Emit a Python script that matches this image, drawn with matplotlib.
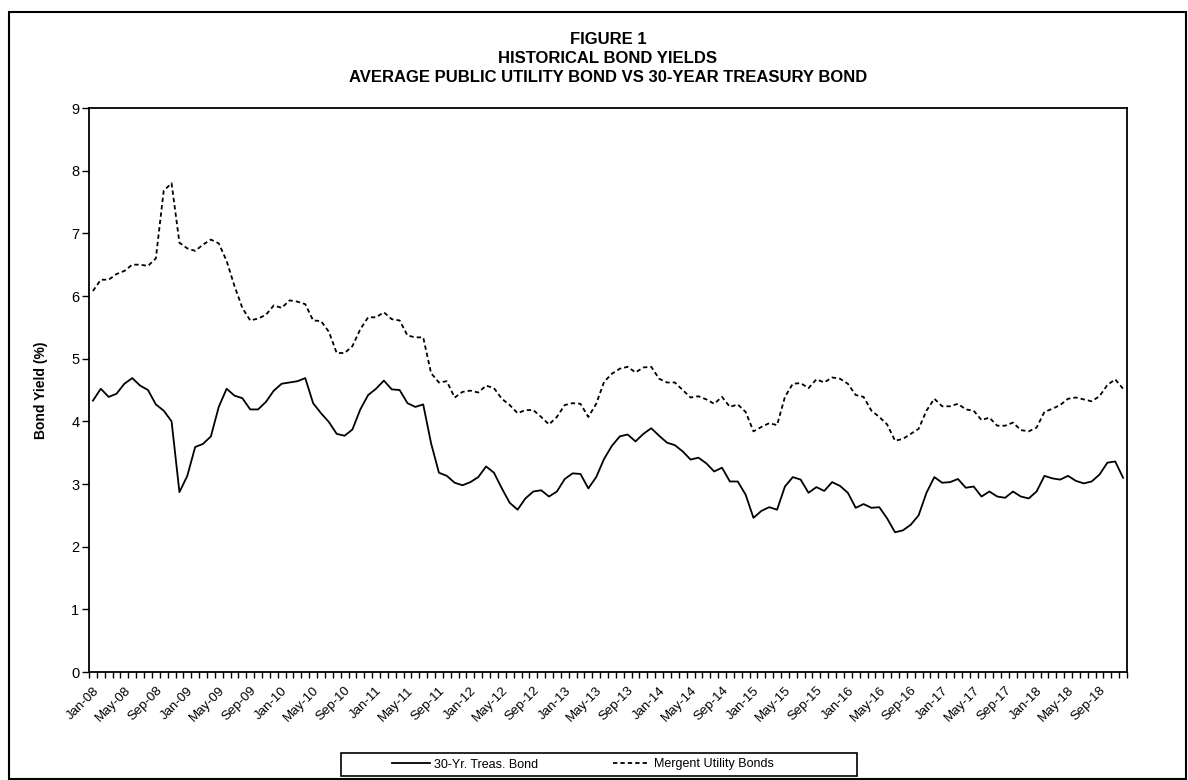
import numpy as np
import matplotlib
matplotlib.use('Agg')
import matplotlib.pyplot as plt
from matplotlib.patches import Rectangle

plt.rcParams['font.family'] = ['Liberation Sans', 'DejaVu Sans']

# 月份标签 (Jan-08 .. Dec-18)
months = ['Jan', 'Feb', 'Mar', 'Apr', 'May', 'Jun', 'Jul', 'Aug', 'Sep', 'Oct', 'Nov', 'Dec']
years = ['%02d' % y for y in range(8, 19)]
labels = [m + '-' + y for y in years for m in months]

# 30-Yr. Treas. Bond
treasury = [
    4.33, 4.52, 4.39, 4.44, 4.60, 4.69, 4.57, 4.50, 4.27, 4.17, 4.00, 2.87,
    3.13, 3.59, 3.64, 3.76, 4.23, 4.52, 4.41, 4.37, 4.19, 4.19, 4.31, 4.49,
    4.60, 4.62, 4.64, 4.69, 4.29, 4.13, 3.99, 3.80, 3.77, 3.87, 4.19, 4.42,
    4.52, 4.65, 4.51, 4.50, 4.29, 4.23, 4.27, 3.65, 3.18, 3.13, 3.02, 2.98,
    3.03, 3.11, 3.28, 3.18, 2.93, 2.70, 2.59, 2.77, 2.88, 2.90, 2.80, 2.88,
    3.08, 3.17, 3.16, 2.93, 3.11, 3.40, 3.61, 3.76, 3.79, 3.68, 3.80, 3.89,
    3.77, 3.66, 3.62, 3.52, 3.39, 3.42, 3.33, 3.20, 3.26, 3.04, 3.04, 2.83,
    2.46, 2.57, 2.63, 2.59, 2.96, 3.11, 3.07, 2.86, 2.95, 2.89, 3.03, 2.97,
    2.86, 2.62, 2.68, 2.62, 2.63, 2.45, 2.23, 2.26, 2.35, 2.50, 2.86, 3.11,
    3.02, 3.03, 3.08, 2.94, 2.96, 2.80, 2.88, 2.80, 2.78, 2.88, 2.80, 2.77,
    2.88, 3.13, 3.09, 3.07, 3.13, 3.05, 3.01, 3.04, 3.15, 3.34, 3.36, 3.10,
]

# Mergent Utility Bonds
utility = [
    6.08, 6.26, 6.26, 6.35, 6.40, 6.50, 6.50, 6.48, 6.60, 7.68, 7.80, 6.85,
    6.76, 6.72, 6.82, 6.90, 6.84, 6.56, 6.16, 5.81, 5.61, 5.64, 5.70, 5.85,
    5.81, 5.93, 5.91, 5.87, 5.61, 5.60, 5.43, 5.09, 5.09, 5.20, 5.47, 5.66,
    5.66, 5.74, 5.63, 5.61, 5.37, 5.34, 5.34, 4.77, 4.62, 4.64, 4.38, 4.47,
    4.49, 4.46, 4.57, 4.53, 4.36, 4.26, 4.13, 4.18, 4.18, 4.07, 3.95, 4.07,
    4.26, 4.29, 4.28, 4.07, 4.28, 4.63, 4.76, 4.84, 4.87, 4.78, 4.86, 4.87,
    4.68, 4.62, 4.62, 4.50, 4.38, 4.40, 4.35, 4.28, 4.39, 4.23, 4.27, 4.15,
    3.84, 3.91, 3.97, 3.94, 4.39, 4.60, 4.61, 4.53, 4.67, 4.62, 4.70, 4.68,
    4.60, 4.42, 4.39, 4.17, 4.07, 3.95, 3.69, 3.72, 3.80, 3.88, 4.17, 4.36,
    4.24, 4.24, 4.28, 4.19, 4.17, 4.02, 4.06, 3.93, 3.93, 3.98, 3.86, 3.84,
    3.90, 4.15, 4.20, 4.26, 4.36, 4.38, 4.35, 4.32, 4.40, 4.58, 4.67, 4.52,
]

W, H = 1188, 780
fig = plt.figure(figsize=(W / 100, H / 100), dpi=100)
ax = fig.add_axes([89 / W, 1 - 672 / H, (1127 - 89) / W, (672 - 108) / H])

x = np.arange(len(labels))
l1, = ax.plot(x, treasury, color='black', lw=1.3, label='30-Yr. Treas. Bond')
l2, = ax.plot(x, utility, color='black', lw=1.3, linestyle=(0, (2.4, 1.7)),
              label='Mergent Utility Bonds')

ax.set_xlim(-0.5, len(labels) - 0.5)
ax.set_ylim(0, 9)
ax.set_yticks(range(10))
ax.tick_params(axis='y', direction='out', length=5, width=1, labelsize=10.5, pad=2)

# 标签每4个月一个, 刻度线每个月
ax.set_xticks(x[::4])
ax.set_xticklabels(labels[::4], rotation=45, ha='right', rotation_mode='anchor',
                   fontsize=9.5)
ax.set_xticks(np.arange(-0.5, len(labels), 1), minor=True)
ax.tick_params(axis='x', which='major', length=0, pad=9)
ax.tick_params(axis='x', which='minor', direction='out', length=4, width=1)

for s in ax.spines.values():
    s.set_linewidth(1.3)

fig.text(41 / W, 1 - 390 / H, 'Bond Yield (%)', rotation=90, ha='center',
         va='center', fontsize=10, fontweight='bold')

fig.text(608 / W, 1 - 58.5 / H,
         'FIGURE 1\nHISTORICAL BOND YIELDS\nAVERAGE PUBLIC UTILITY BOND VS 30-YEAR TREASURY BOND',
         ha='center', va='center', multialignment='center', fontsize=12,
         fontweight='bold', linespacing=1.3)

# 图例框
fig.patches.append(Rectangle((341 / W, 1 - 776 / H), 516 / W, 23 / H,
                             transform=fig.transFigure, fill=False,
                             lw=1.2, ec='black'))
fig.legend(handles=[l1, l2], loc='center', bbox_to_anchor=(583 / W, 1 - 764.5 / H),
           ncol=2, frameon=False, fontsize=9, handlelength=3.0,
           handletextpad=0.3, columnspacing=6.0)

# 外框
fig.patches.append(Rectangle((9 / W, 1 / H), (1186 - 9) / W, (779 - 12) / H,
                             transform=fig.transFigure, fill=False,
                             lw=1.5, ec='black'))

fig.savefig('out.png', dpi=100)
